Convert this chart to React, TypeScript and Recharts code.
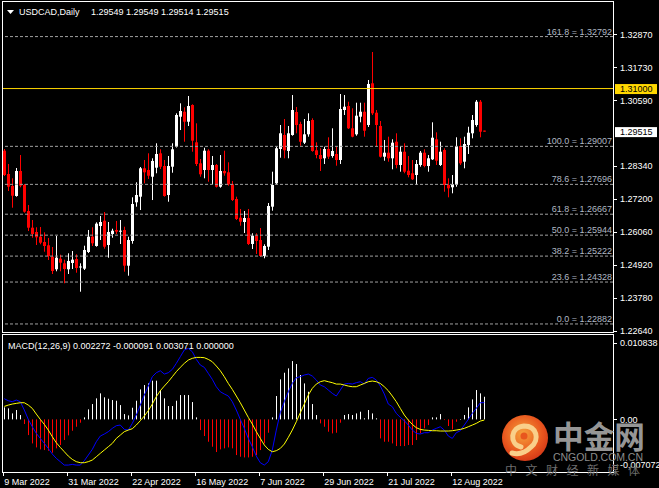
import React from 'react';
import { ComposedChart, Bar, Line, XAxis, YAxis, ReferenceLine } from 'recharts';

// ---------- data ----------
const opens = [1.28857,1.28053,1.27640,1.27295,1.28157,1.27674,1.26778,1.26202,1.26054,1.25892,
1.25709,1.25595,1.25202,1.24768,1.25133,1.24974,1.24768,1.24985,1.25122,1.24847,
1.24788,1.25364,1.25892,1.25571,1.26260,1.26443,1.25605,1.25985,1.26123,1.26078,
1.26123,1.24892,1.25743,1.27078,1.27271,1.28250,1.28191,1.27960,1.28271,1.28767,
1.28329,1.27329,1.28305,1.28995,1.30029,1.30201,1.29856,1.30433,1.29146,1.28422,
1.28191,1.28857,1.28191,1.28364,1.27615,1.28157,1.28112,1.27698,1.27191,1.26547,
1.26398,1.26536,1.25640,1.25926,1.25777,1.25226,1.25547,1.26926,1.27733,1.28916,
1.29398,1.28847,1.29398,1.30191,1.29777,1.29133,1.29422,1.29915,1.28871,1.28708,
1.28595,1.28916,1.28674,1.28743,1.28536,1.30260,1.30398,1.29629,1.29422,1.30029,
1.30201,1.29743,1.31181,1.30167,1.29709,1.28650,1.28788,1.28595,1.29167,1.28364,
1.28822,1.28167,1.28078,1.28019,1.28364,1.28788,1.28329,1.28560,1.29250,1.28364,
1.28881,1.27674,1.27595,1.27674,1.29019,1.28478,1.29053,1.29457,1.29743,1.30546,
1.29549];
const highs = [1.28915,1.28398,1.27905,1.28260,1.28708,1.27709,1.26985,1.26467,1.26216,1.26226,
1.26043,1.25847,1.25536,1.25916,1.25271,1.25099,1.25319,1.25398,1.25285,1.24974,
1.25581,1.26123,1.26216,1.26388,1.26605,1.26743,1.26398,1.26167,1.26433,1.26467,
1.26236,1.25892,1.27250,1.27767,1.28295,1.28536,1.28767,1.28595,1.29112,1.28905,
1.28536,1.28674,1.29112,1.30146,1.30491,1.30353,1.30743,1.30457,1.29801,1.28571,
1.28960,1.28905,1.28674,1.28398,1.28708,1.28857,1.28457,1.27812,1.27271,1.26847,
1.26778,1.26847,1.26009,1.26009,1.26191,1.25630,1.27053,1.28133,1.28995,1.29743,
1.29950,1.29709,1.30777,1.30364,1.29856,1.29950,1.30146,1.29974,1.29146,1.28940,
1.28995,1.29319,1.29629,1.28995,1.30812,1.30777,1.30546,1.30319,1.30512,1.30512,
1.30512,1.31295,1.32260,1.30260,1.29881,1.29226,1.29340,1.29250,1.29457,1.28995,
1.29112,1.28674,1.28536,1.28536,1.28847,1.28905,1.28708,1.29836,1.29491,1.29167,
1.28940,1.27905,1.28019,1.29319,1.29284,1.29340,1.29684,1.30088,1.30605,1.30605,
1.29549];
const lows = [1.27984,1.27467,1.26891,1.27271,1.27595,1.26719,1.26088,1.25857,1.25605,1.25630,
1.25374,1.25088,1.24605,1.24699,1.24699,1.24285,1.24605,1.24778,1.24650,1.23995,
1.24743,1.25329,1.25571,1.25547,1.25777,1.25478,1.25167,1.25857,1.25985,1.25640,
1.24685,1.24547,1.25650,1.26926,1.26812,1.27733,1.27881,1.27156,1.28078,1.28226,
1.27271,1.27098,1.28098,1.28967,1.29570,1.29167,1.29709,1.28822,1.28329,1.27960,
1.27905,1.27788,1.27709,1.27588,1.27581,1.27995,1.27650,1.27122,1.26467,1.26271,
1.26019,1.25605,1.25467,1.25295,1.25192,1.25147,1.25433,1.26788,1.27698,1.28615,
1.28595,1.28595,1.29374,1.29457,1.29029,1.29088,1.29340,1.28822,1.28595,1.28157,
1.28398,1.28571,1.28615,1.28340,1.28398,1.30088,1.29605,1.29319,1.29374,1.29836,
1.29340,1.29674,1.30088,1.28995,1.28622,1.28512,1.28478,1.28216,1.28250,1.28133,
1.28078,1.27940,1.27846,1.27674,1.28305,1.28284,1.28133,1.28536,1.28364,1.28329,
1.27443,1.27250,1.27388,1.27615,1.28364,1.28250,1.28743,1.29284,1.29684,1.29319,
1.29514];
const closes = [1.28019,1.27615,1.27305,1.28157,1.27650,1.26753,1.26202,1.25985,1.25871,1.25685,
1.25571,1.25226,1.24709,1.25168,1.24995,1.24778,1.25053,1.25099,1.24812,1.24864,
1.25433,1.25892,1.25664,1.26340,1.26398,1.25547,1.26054,1.26098,1.26064,1.26098,
1.24892,1.25777,1.27019,1.27329,1.28250,1.28112,1.27995,1.28502,1.28743,1.28305,
1.27295,1.28329,1.28905,1.30088,1.30226,1.29856,1.30398,1.29202,1.28398,1.28043,
1.28857,1.28191,1.28364,1.27615,1.28157,1.28078,1.27698,1.27156,1.26502,1.26409,
1.26536,1.25640,1.25926,1.25743,1.25226,1.25571,1.26950,1.27674,1.28940,1.29457,
1.28871,1.29457,1.30260,1.29743,1.29167,1.29422,1.29881,1.28847,1.28708,1.28571,
1.28916,1.28650,1.28847,1.28536,1.30295,1.30374,1.29629,1.29340,1.30064,1.30201,
1.29546,1.31157,1.30146,1.29743,1.28650,1.28788,1.28595,1.29133,1.28364,1.28822,
1.28133,1.28019,1.27871,1.28398,1.28788,1.28329,1.28595,1.29305,1.28512,1.28822,
1.27674,1.27560,1.27698,1.29019,1.28422,1.29088,1.29477,1.29915,1.30546,1.29512,
1.29515];

const macdMain = [0.00280,0.00253,0.00240,0.00262,0.00240,0.00127,0.00000,-0.00100,-0.00190,-0.00258,
-0.00326,-0.00394,-0.00470,-0.00529,-0.00574,-0.00620,-0.00620,-0.00611,-0.00620,-0.00620,
-0.00561,-0.00484,-0.00407,-0.00303,-0.00226,-0.00199,-0.00167,-0.00122,-0.00086,-0.00077,
-0.00136,-0.00145,-0.00054,0.00059,0.00194,0.00330,0.00452,0.00579,0.00633,0.00660,
0.00615,0.00633,0.00678,0.00760,0.00850,0.00941,0.00963,0.00918,0.00814,0.00737,
0.00706,0.00624,0.00543,0.00443,0.00375,0.00344,0.00317,0.00240,0.00127,0.00000,
-0.00122,-0.00258,-0.00371,-0.00498,-0.00588,-0.00620,-0.00574,-0.00416,-0.00145,0.00090,
0.00240,0.00375,0.00488,0.00565,0.00579,0.00602,0.00615,0.00588,0.00534,0.00466,
0.00443,0.00398,0.00353,0.00317,0.00398,0.00479,0.00488,0.00479,0.00498,0.00511,
0.00479,0.00556,0.00570,0.00534,0.00452,0.00344,0.00208,0.00172,0.00081,0.00027,
-0.00018,-0.00077,-0.00145,-0.00190,-0.00199,-0.00181,-0.00181,-0.00145,-0.00122,-0.00100,
-0.00145,-0.00226,-0.00258,-0.00181,-0.00154,-0.00077,0.00000,0.00081,0.00149,0.00226,
0.002272];
const macdSignal = [0.00176,0.00194,0.00208,0.00217,0.00226,0.00226,0.00194,0.00149,0.00072,0.00000,
-0.00068,-0.00145,-0.00235,-0.00317,-0.00380,-0.00439,-0.00498,-0.00543,-0.00574,-0.00588,
-0.00588,-0.00574,-0.00552,-0.00507,-0.00461,-0.00416,-0.00371,-0.00326,-0.00258,-0.00213,
-0.00167,-0.00145,-0.00127,-0.00077,-0.00018,0.00045,0.00118,0.00208,0.00308,0.00389,
0.00452,0.00511,0.00579,0.00647,0.00706,0.00760,0.00805,0.00828,0.00841,0.00841,
0.00837,0.00814,0.00782,0.00724,0.00660,0.00579,0.00488,0.00407,0.00317,0.00226,
0.00127,0.00027,-0.00063,-0.00167,-0.00258,-0.00348,-0.00407,-0.00439,-0.00425,-0.00394,
-0.00335,-0.00244,-0.00145,-0.00032,0.00090,0.00208,0.00330,0.00421,0.00479,0.00511,
0.00525,0.00511,0.00498,0.00479,0.00479,0.00466,0.00452,0.00443,0.00443,0.00466,
0.00488,0.00511,0.00520,0.00511,0.00488,0.00443,0.00389,0.00317,0.00240,0.00149,
0.00059,-0.00009,-0.00068,-0.00113,-0.00136,-0.00145,-0.00149,-0.00154,-0.00154,-0.00158,
-0.00158,-0.00158,-0.00154,-0.00145,-0.00136,-0.00122,-0.00100,-0.00077,-0.00054,-0.00023,
-0.000091];
const macdHist = [0.00163,0.00149,0.00081,0.00127,0.00059,-0.00063,-0.00213,-0.00326,-0.00380,-0.00407,
-0.00416,-0.00425,-0.00452,-0.00393,-0.00348,-0.00280,-0.00217,-0.00154,-0.00100,-0.00045,
0.00027,0.00136,0.00208,0.00285,0.00353,0.00299,0.00280,0.00262,0.00253,0.00194,
0.00072,0.00054,0.00158,0.00253,0.00407,0.00466,0.00488,0.00525,0.00525,0.00398,
0.00285,0.00181,0.00181,0.00253,0.00330,0.00330,0.00330,0.00235,0.00027,-0.00145,
-0.00226,-0.00303,-0.00371,-0.00443,-0.00407,-0.00393,-0.00380,-0.00393,-0.00484,-0.00507,
-0.00516,-0.00516,-0.00507,-0.00484,-0.00416,-0.00326,-0.00181,0.00027,0.00317,0.00543,
0.00633,0.00692,0.00791,0.00751,0.00602,0.00488,0.00375,0.00208,0.00059,-0.00054,
-0.00100,-0.00167,-0.00190,-0.00181,-0.00045,0.00059,0.00072,0.00059,0.00081,0.00104,
0.00014,0.00127,0.00081,0.00014,-0.00258,-0.00303,-0.00303,-0.00326,-0.00362,-0.00362,
-0.00362,-0.00348,-0.00348,-0.00280,-0.00190,-0.00122,-0.00077,0.00027,0.00027,0.00072,
-0.00009,-0.00090,-0.00136,-0.00032,0.00000,0.00059,0.00163,0.00271,0.00398,0.00353,
0.003071];

const dateTickBars = [0, 16, 32, 48, 64, 80, 96, 112];
const dateLabels = ['9 Mar 2022', '31 Mar 2022', '22 Apr 2022', '16 May 2022', '7 Jun 2022', '29 Jun 2022', '21 Jul 2022', '12 Aug 2022'];
const priceTicks = [1.3287, 1.3173, 1.3059, 1.2834, 1.272, 1.2606, 1.2492, 1.2378, 1.2264];
const fibLevels = ['161.8', '100.0', '78.6', '61.8', '50.0', '38.2', '23.6', '0.0'];
const fibPrices = [1.32792, 1.29007, 1.27696, 1.26667, 1.25944, 1.25222, 1.24328, 1.22882];
const resistancePrice = 1.31;
const lastPrice = 1.29515;
const headerSymbol = 'USDCAD,Daily';
const headerQuote = '1.29549 1.29549 1.29514 1.29515';
const macdTitle = 'MACD(12,26,9) 0.002272 -0.000091 0.003071 0.000000';
const macdTicks = [0.010838, 0, -0.007072];
const macdTickLabels = ['0.010838', '0.00', '-0.007072'];

// ---------- layout constants ----------
const FONT = "'Liberation Sans', Arial, sans-serif";
const W = 659;
const PRICE_DOMAIN: [number, number] = [1.22605, 1.3395];
const MACD_DOMAIN: [number, number] = [-0.007072, 0.010838];
const X_DOMAIN: [number, number] = [-0.325, 152.175];

const candles = opens.map((o, i) => ({
  i, o, hi: highs[i], lo: lows[i], c: closes[i], range: [lows[i], highs[i]],
}));
const macdRows = macdMain.map((m, i) => ({ i, main: m, signal: macdSignal[i], hist: macdHist[i] }));

function Candle(props: any) {
  const { x, y, width, height, payload } = props;
  if (x == null || y == null || !payload) return null;
  const cx = Math.round(x + width / 2);
  const top = Math.min(y, y + height);
  const h = Math.abs(height);
  const { o, hi, lo, c } = payload;
  const span = hi - lo;
  const yOf = (v: number) => (span > 0 ? top + ((hi - v) / span) * h : top);
  const col = c >= o ? '#ffffff' : '#ff0000';
  const bTop = yOf(Math.max(o, c));
  const bBot = yOf(Math.min(o, c));
  return (
    <g>
      <rect x={cx} y={top} width={1} height={Math.max(h, 1)} fill={col} />
      <rect x={cx - 1} y={bTop} width={3} height={Math.max(bBot - bTop, 1)} fill={col} />
    </g>
  );
}

function HistBar(props: any) {
  const { x, y, width, height, payload } = props;
  if (x == null || y == null || !payload) return null;
  const cx = Math.round(x + width / 2);
  const top = Math.min(y, y + height);
  const h = Math.abs(height);
  return <rect x={cx} y={top} width={1} height={Math.max(h, 0.5)} fill={payload.hist >= 0 ? '#ffffff' : '#ff0000'} />;
}

function PriceTick(props: any) {
  const { y, payload } = props;
  return (
    <g>
      <rect x={614} y={Math.round(y)} width={3} height={1} fill="#ffffff" />
      <text x={620} y={y + 3.3} fill="#ffffff" fontSize={9} fontFamily={FONT}>{Number(payload.value).toFixed(5)}</text>
    </g>
  );
}

function MacdTick(props: any) {
  const { y, payload } = props;
  const k = macdTicks.indexOf(payload.value);
  const shift = k === 0 ? 3.5 : k === 2 ? -6.5 : 0;
  return (
    <g>
      <rect x={614} y={Math.round(y + shift)} width={3} height={1} fill="#ffffff" />
      <text x={620} y={y + shift + 3.3} fill="#ffffff" fontSize={9} fontFamily={FONT}>{macdTickLabels[k]}</text>
    </g>
  );
}

function DateTick(props: any) {
  const { x, payload } = props;
  const k = dateTickBars.indexOf(payload.value);
  const px = Math.round(x) - 1;
  return (
    <g>
      <rect x={px} y={142} width={1} height={4} fill="#ffffff" />
      <text x={x} y={154.5} fill="#ffffff" fontSize={9} fontFamily={FONT}>{dateLabels[k]}</text>
    </g>
  );
}

const fibLabel = (text: string) => (p: any) => {
  const vb = p.viewBox || {};
  return (
    <text x={612} y={(vb.y ?? 0) - 2} textAnchor="end" fill="#b0b8c4" fontSize={9} fontFamily={FONT}>{text}</text>
  );
};

const boxLabel = (text: string, bg: string) => (p: any) => {
  const vb = p.viewBox || {};
  const yc = vb.y ?? 0;
  return (
    <g>
      <rect x={615} y={yc - 4.5} width={42} height={10} fill={bg} />
      <text x={620} y={yc + 3.5} fill="#000000" fontSize={9} fontFamily={FONT}>{text}</text>
    </g>
  );
};

export default function App() {
  return (
    <div style={{ position: 'fixed', left: 0, top: 0, width: W, height: 488, background: '#000', overflow: 'hidden', fontFamily: FONT }}>
      {/* frames */}
      <div style={{ position: 'absolute', left: 2, top: 1, width: 612, height: 332, border: '1px solid #fff', boxSizing: 'border-box' }} />
      <div style={{ position: 'absolute', left: 2, top: 334, width: 612, height: 139, border: '1px solid #fff', boxSizing: 'border-box' }} />

      <div style={{ position: 'absolute', left: 0, top: 0 }}>
        <ComposedChart width={W} height={335} data={candles} margin={{ top: 3, right: 0, bottom: 3, left: 3 }}>
          <XAxis type="number" dataKey="i" domain={X_DOMAIN} hide allowDataOverflow />
          <YAxis orientation="right" width={46} domain={PRICE_DOMAIN} ticks={priceTicks} interval={0}
            axisLine={false} tickLine={false} tick={<PriceTick />} allowDataOverflow />
          {fibPrices.map((p, k) => (
            <ReferenceLine key={'f' + k} y={p} stroke="#a0a0a0" strokeDasharray="3 2"
              label={fibLabel(fibLevels[k] + ' = ' + p.toFixed(5))} />
          ))}
          <ReferenceLine y={resistancePrice} stroke="#ffd700" label={boxLabel(resistancePrice.toFixed(5), '#ffd700')} />
          <ReferenceLine y={lastPrice} stroke="none" strokeWidth={0} label={boxLabel(lastPrice.toFixed(5), '#ffffff')} />
          <Bar dataKey="range" barSize={3} shape={<Candle />} isAnimationActive={false} />
        </ComposedChart>
      </div>

      <div style={{ position: 'absolute', left: 0, top: 330 }}>
        <ComposedChart width={W} height={158} data={macdRows} margin={{ top: 9.5, right: 0, bottom: 0, left: 3 }}>
          <XAxis type="number" dataKey="i" domain={X_DOMAIN} allowDataOverflow ticks={dateTickBars} interval={0}
            height={16.5} axisLine={false} tickLine={false} tick={<DateTick />} />
          <YAxis orientation="right" width={46} domain={MACD_DOMAIN} ticks={macdTicks} interval={0}
            axisLine={false} tickLine={false} tick={<MacdTick />} allowDataOverflow />
          <Bar dataKey="hist" barSize={1} shape={<HistBar />} isAnimationActive={false} />
          <Line dataKey="main" type="linear" stroke="#0000ff" strokeWidth={1} dot={false} isAnimationActive={false} />
          <Line dataKey="signal" type="linear" stroke="#ffff00" strokeWidth={1} dot={false} isAnimationActive={false} />
        </ComposedChart>
      </div>

      {/* headers */}
      <svg width={W} height={488} style={{ position: 'absolute', left: 0, top: 0, pointerEvents: 'none' }}>
        <polygon points="7,10 14,10 10.5,14" fill="#ffffff" />
        <text x={19} y={15} fill="#ffffff" fontSize={9} fontFamily={FONT}>{headerSymbol}</text>
        <text x={91} y={15} fill="#ffffff" fontSize={9} fontFamily={FONT}>{headerQuote}</text>
        <text x={8} y={349} fill="#ffffff" fontSize={9} fontFamily={FONT}>{macdTitle}</text>

        {/* watermark */}
        <defs>
          <radialGradient id="wmg" cx="45%" cy="40%" r="60%">
            <stop offset="0%" stopColor="#f6a23c" />
            <stop offset="70%" stopColor="#e8561e" />
            <stop offset="100%" stopColor="#d63c18" />
          </radialGradient>
        </defs>
        <circle cx={525} cy={438} r={23} fill="url(#wmg)" />
        <path d="M 521 447 C 509 444 510 427 524 426 C 537 426 540 440 531 447 C 526 452 519 455 512 453"
          fill="none" stroke="#f9cf8a" strokeWidth={5} strokeLinecap="round" />
        <circle cx={524} cy={436} r={3.5} fill="#e8561e" />
        <text x={553} y={448} fill="#969696" fontSize={31} fontWeight="bold" fontFamily="'Noto Sans CJK SC', sans-serif"
          textLength={92} lengthAdjust="spacingAndGlyphs">中金网</text>
        <text x={553} y={461} fill="#8c8c8c" fontSize={10.5} fontFamily={FONT} textLength={90} lengthAdjust="spacing">CNGOLD.COM.CN</text>
        <text x={505} y={475} fill="#6e6e6e" fontSize={12} fontFamily="'Noto Sans CJK SC', sans-serif" textLength={135} lengthAdjust="spacing">中文财经新媒体</text>
      </svg>
    </div>
  );
}
